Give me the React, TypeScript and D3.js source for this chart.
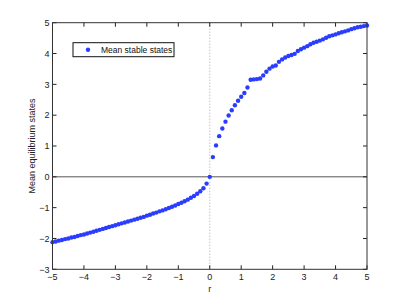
import React from "react";
import * as d3 from "d3";

// r values, step 0.1 from -5 to 5
const rLeft = d3.range(-50, 1).map(i => i / 10);
const statesLeft = [
  -2.12, -2.10, -2.07, -2.05, -2.02, -2.00, -1.97, -1.95, -1.92, -1.89,
  -1.87, -1.84, -1.81, -1.78, -1.75, -1.72, -1.69, -1.66, -1.63, -1.60,
  -1.57, -1.54, -1.51, -1.48, -1.45, -1.42, -1.39, -1.36, -1.33, -1.30,
  -1.26, -1.23, -1.19, -1.16, -1.12, -1.09, -1.05, -1.01, -0.97, -0.93,
  -0.88, -0.84, -0.79, -0.74, -0.68, -0.62, -0.55, -0.47, -0.37, -0.22,
  0,
];
const rRight = d3.range(1, 51).map(i => i / 10);
const statesRight = [
  0.64, 1.02, 1.32, 1.57, 1.79, 1.99, 2.16, 2.32, 2.47, 2.60,
  2.72, 2.90, 3.15, 3.16, 3.17, 3.19, 3.29, 3.41, 3.51, 3.58,
  3.61, 3.73, 3.81, 3.87, 3.92, 3.95, 3.99, 4.08, 4.14, 4.19,
  4.24, 4.30, 4.35, 4.38, 4.42, 4.46, 4.51, 4.56, 4.59, 4.62,
  4.66, 4.69, 4.72, 4.75, 4.79, 4.82, 4.85, 4.87, 4.89, 4.91,
];
const xTicks = [-5, -4, -3, -2, -1, 0, 1, 2, 3, 4, 5];
const yTicks = [-3, -2, -1, 0, 1, 2, 3, 4, 5];

const points = [
  ...rLeft.map((r, i) => ({ r, v: statesLeft[i] })),
  ...rRight.map((r, i) => ({ r, v: statesRight[i] })),
];

const fmt = (d: number) => (d < 0 ? "\u2212" + Math.abs(d) : String(d));

export default function App() {
  const width = 405;
  const height = 304;
  const left = 52.5, right = 367, top = 22.7, bottom = 269.3;
  const x = d3.scaleLinear([-5, 5], [left, right]);
  const y = d3.scaleLinear([-3, 5], [bottom, top]);
  const font = "Liberation Sans, Arial, sans-serif";
  const blue = "#2a3dff";
  const tl = 4;

  return (
    <svg width={width} height={height}
      style={{ position: "absolute", left: 0, top: 0, background: "white" }}
      fontFamily={font}>
      <line x1={x(0)} x2={x(0)} y1={top} y2={bottom} stroke="#aaa" strokeDasharray="1,2" />
      <line x1={left} x2={right} y1={y(0)} y2={y(0)} stroke="#555" strokeWidth={1} />

      {xTicks.map(t => (
        <g key={"x" + t}>
          <line x1={x(t)} x2={x(t)} y1={bottom} y2={bottom - tl} stroke="#222" />
          <line x1={x(t)} x2={x(t)} y1={top} y2={top + tl} stroke="#222" />
          <text x={x(t)} y={bottom + 11} fontSize={9} textAnchor="middle" fill="#222">{fmt(t)}</text>
        </g>
      ))}
      {yTicks.map(t => (
        <g key={"y" + t}>
          <line x1={left} x2={left + tl} y1={y(t)} y2={y(t)} stroke="#222" />
          <line x1={right} x2={right - tl} y1={y(t)} y2={y(t)} stroke="#222" />
          <text x={left - 3} y={y(t) + 3.2} fontSize={9} textAnchor="end" fill="#222">{fmt(t)}</text>
        </g>
      ))}

      {points.map((p, i) => (
        <circle key={i} cx={x(p.r)} cy={y(p.v)} r={2.2} fill={blue} />
      ))}

      <rect x={left} y={top} width={right - left} height={bottom - top} fill="none" stroke="#333" strokeWidth={1} />

      <g>
        <rect x={73} y={42.7} width={101} height={14} fill="white" stroke="#111" strokeWidth={1} />
        <circle cx={88} cy={49.7} r={2.2} fill={blue} />
        <text x={101} y={53} fontSize={8.5} fill="#111">Mean stable states</text>
      </g>

      <text x={x(0)} y={292} fontSize={9} textAnchor="middle" fill="#222">r</text>
      <text transform={`translate(35,${(top + bottom) / 2}) rotate(-90)`} fontSize={9} textAnchor="middle" fill="#222">
        Mean equilibrium states
      </text>
    </svg>
  );
}
